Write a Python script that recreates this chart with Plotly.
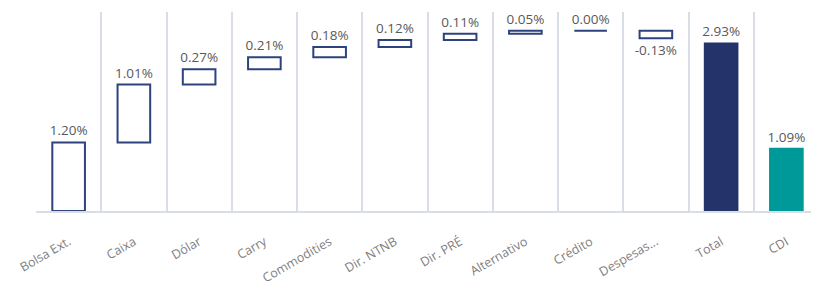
import plotly.graph_objects as go
import numpy as np

categories = ["Bolsa Ext.", "Caixa", "Dólar", "Carry", "Commodities", "Dir. NTNB",
              "Dir. PRÉ", "Alternativo", "Crédito", "Despesas...", "Total", "CDI"]
contrib = [1.20, 1.01, 0.27, 0.21, 0.18, 0.12, 0.11, 0.05, 0.00, -0.13]
total = 2.93
cdi = 1.09

cum = np.concatenate([[0.0], np.cumsum(contrib)[:-1]])
bases = list(cum) + [0.0, 0.0]
values = contrib + [total, cdi]
labels = [f"{v:.2f}%" for v in values]

navy = "#24346a"
outline = "#2e437e"
teal = "#009999"
fills = ["white"] * len(contrib) + [navy, teal]
lines = [outline] * len(contrib) + [navy, teal]

fig = go.Figure(go.Bar(
    x=categories, y=values, base=bases,
    marker=dict(color=fills, line=dict(color=lines, width=2)),
    width=0.5,
    text=labels, textposition="outside", cliponaxis=False, constraintext="none",
    textfont=dict(family="Open Sans", size=13.5, color="#595959"),
    hoverinfo="skip",
))

fig.update_layout(
    width=811, height=278,
    margin=dict(l=28, r=0, t=4, b=67),
    plot_bgcolor="white", paper_bgcolor="white",
    showlegend=False,
    bargap=0.5,
)
fig.update_xaxes(
    type="category", tickson="boundaries", showgrid=True, gridcolor="#d9dde6", gridwidth=1.5,
    showline=True, linecolor="#d9dde6", linewidth=1.5, ticks="",
    tickangle=-30, ticklabelstandoff=17,
    tickfont=dict(family="Open Sans", size=12.5, color="#7f7f7f"),
)
fig.update_yaxes(range=[0, 3.48], showgrid=False, showticklabels=False, zeroline=False, showline=False)

fig.write_html("out.html")
